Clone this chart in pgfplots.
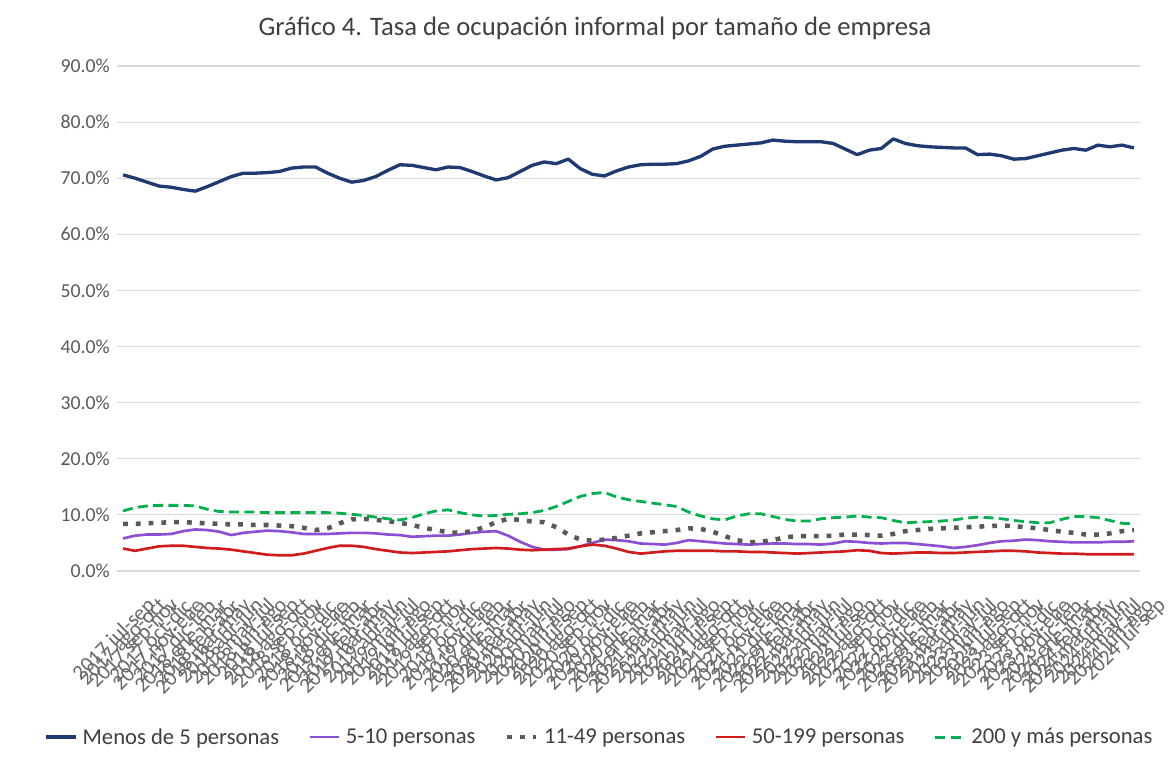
\documentclass[border=0pt]{standalone}
\usepackage{pgfplots}
\pgfplotsset{compat=1.18}
\usepackage{pgfplotstable}
\usepackage{fontspec}
\setmainfont{Carlito}
\definecolor{cBlue}{HTML}{1F3A70}
\definecolor{cPurple}{HTML}{8A4FD2}
\definecolor{cGray}{HTML}{595959}
\definecolor{cRed}{HTML}{D01C1C}
\definecolor{cGreen}{HTML}{00B050}
\definecolor{cGrid}{HTML}{D9D9D9}
\definecolor{cText}{HTML}{595959}
\definecolor{cTitle}{HTML}{404040}

\pgfplotstableread{
i a b c d e
0 70.6 5.8 8.4 4.0 10.7
1 70.0 6.3 8.4 3.6 11.3
2 69.3 6.5 8.5 4.0 11.6
3 68.6 6.5 8.6 4.4 11.7
4 68.4 6.6 8.7 4.5 11.7
5 68.0 7.1 8.7 4.5 11.7
6 67.7 7.4 8.6 4.3 11.6
7 68.5 7.3 8.5 4.1 11.0
8 69.4 7.0 8.4 4.0 10.6
9 70.3 6.4 8.3 3.8 10.5
10 70.9 6.8 8.3 3.5 10.5
11 70.9 7.0 8.2 3.2 10.5
12 71.0 7.2 8.2 2.9 10.4
13 71.2 7.1 8.1 2.8 10.4
14 71.8 6.9 8.0 2.8 10.4
15 72.0 6.6 7.7 3.1 10.4
16 72.0 6.6 7.3 3.6 10.4
17 70.9 6.6 7.6 4.1 10.4
18 70.0 6.7 8.5 4.5 10.3
19 69.3 6.8 9.2 4.5 10.1
20 69.6 6.8 9.3 4.3 9.9
21 70.3 6.7 9.1 3.9 9.6
22 71.4 6.5 8.9 3.6 9.3
23 72.4 6.4 8.6 3.3 9.1
24 72.3 6.1 8.2 3.2 9.5
25 71.9 6.2 7.7 3.3 10.2
26 71.5 6.3 7.3 3.4 10.7
27 72.0 6.3 6.9 3.5 10.9
28 71.9 6.5 6.8 3.7 10.4
29 71.2 6.8 7.1 3.9 10.0
30 70.4 7.0 7.8 4.0 9.8
31 69.7 7.1 8.7 4.1 9.9
32 70.1 6.3 9.3 4.0 10.1
33 71.2 5.2 9.1 3.8 10.2
34 72.3 4.3 8.8 3.7 10.4
35 72.9 3.8 8.7 3.8 10.8
36 72.6 3.8 7.8 3.9 11.5
37 73.4 3.9 6.5 4.0 12.4
38 71.7 4.4 5.6 4.4 13.3
39 70.7 5.0 5.4 4.7 13.8
40 70.4 5.6 5.6 4.5 14.0
41 71.3 5.5 5.9 4.0 13.2
42 72.0 5.3 6.3 3.4 12.7
43 72.4 4.9 6.7 3.1 12.4
44 72.5 4.8 6.9 3.3 12.1
45 72.5 4.7 7.1 3.5 11.8
46 72.6 5.0 7.3 3.6 11.5
47 73.1 5.5 7.6 3.6 10.5
48 73.9 5.3 7.5 3.6 9.8
49 75.2 5.1 7.0 3.6 9.3
50 75.7 4.9 6.2 3.5 9.1
51 75.9 4.8 5.5 3.5 9.8
52 76.1 4.7 5.1 3.4 10.2
53 76.3 4.8 5.2 3.4 10.2
54 76.8 4.9 5.5 3.3 9.7
55 76.6 4.9 6.0 3.2 9.2
56 76.5 4.8 6.2 3.1 8.9
57 76.5 4.8 6.2 3.2 8.9
58 76.5 4.7 6.2 3.3 9.3
59 76.2 4.9 6.3 3.4 9.5
60 75.2 5.3 6.5 3.5 9.6
61 74.2 5.2 6.5 3.7 9.8
62 75.0 5.0 6.4 3.6 9.6
63 75.3 4.9 6.3 3.2 9.5
64 77.0 5.0 6.6 3.1 9.0
65 76.2 5.0 7.1 3.2 8.6
66 75.8 4.8 7.3 3.3 8.7
67 75.6 4.6 7.5 3.3 8.8
68 75.5 4.4 7.6 3.2 8.9
69 75.4 4.1 7.7 3.2 9.1
70 75.4 4.3 7.8 3.3 9.4
71 74.2 4.6 7.9 3.4 9.6
72 74.3 5.0 8.0 3.5 9.5
73 74.0 5.3 8.1 3.6 9.3
74 73.4 5.4 8.0 3.6 9.0
75 73.5 5.6 7.8 3.5 8.8
76 74.0 5.5 7.6 3.3 8.6
77 74.5 5.3 7.3 3.2 8.6
78 75.0 5.2 7.0 3.1 9.2
79 75.3 5.1 6.8 3.1 9.7
80 75.0 5.1 6.5 3.0 9.7
81 75.9 5.1 6.5 3.0 9.5
82 75.6 5.2 6.7 3.0 9.0
83 75.9 5.2 7.1 3.0 8.5
84 75.4 5.3 7.3 3.0 8.4
}\datatable

\begin{document}
\begin{tikzpicture}
\path[use as bounding box] (-87.75pt,-149.25pt) rectangle (789.75pt,428.25pt);
\begin{axis}[
  at={(0pt,0pt)}, anchor=south west,
  scale only axis, width=767.25pt, height=378.75pt,
  xmin=-0.5, xmax=84.5, ymin=0, ymax=90,
  ytick={0,10,...,90},
  xtick={0,...,84},
  xticklabels={
    2017 jul-sep,2017 ago-oct,2017 sep-nov,2017 oct-dic,2017 nov-ene,2017 dic-feb,
    2018 ene-mar,2018 feb-abr,2018 mar-may,2018 abr-jun,2018 may-jul,2018 jun-ago,2018 jul-sep,2018 ago-oct,2018 sep-nov,2018 oct-dic,2018 nov-ene,2018 dic-feb,
    2019 ene-mar,2019 feb-abr,2019 mar-may,2019 abr-jun,2019 may-jul,2019 jun-ago,2019 jul-sep,2019 ago-oct,2019 sep-nov,2019 oct-dic,2019 nov-ene,2019 dic-feb,
    2020 ene-mar,2020 feb-abr,2020 mar-may,2020 abr-jun,2020 may-jul,2020 jun-ago,2020 jul-sep,2020 ago-oct,2020 sep-nov,2020 oct-dic,2020 nov-ene,2020 dic-feb,
    2021 ene-mar,2021 feb-abr,2021 mar-may,2021 abr-jun,2021 may-jul,2021 jun-ago,2021 jul-sep,2021 ago-oct,2021 sep-nov,2021 oct-dic,2021 nov-ene,2021 dic-feb,
    2022 ene-mar,2022 feb-abr,2022 mar-may,2022 abr-jun,2022 may-jul,2022 jun-ago,2022 jul-sep,2022 ago-oct,2022 sep-nov,2022 oct-dic,2022 nov-ene,2022 dic-feb,
    2023 ene-mar,2023 feb-abr,2023 mar-may,2023 abr-jun,2023 may-jul,2023 jun-ago,2023 jul-sep,2023 ago-oct,2023 sep-nov,2023 oct-dic,2023 nov-ene,2023 dic-feb,
    2024 ene-mar,2024 feb-abr,2024 mar-may,2024 abr-jun,2024 may-jul,2024 jun-ago,2024 jul-sep},
  axis line style={draw=none},
  tick style={draw=none},
  major tick length=0pt,
  ymajorgrids, grid style={cGrid, line width=0.9pt},
  /pgf/number format/assume math mode=true,
  yticklabel={\pgfmathprintnumber[fixed,fixed zerofill,precision=1]{\tick}\%},
  yticklabel style={font=\fontsize{14.8}{17}\selectfont, text=cText, xshift=-2pt},
  xticklabel style={font=\fontsize{16}{18}\selectfont, text=cText!90, rotate=45, anchor=east, yshift=-32pt, xshift=2pt},
  legend style={at={(0.472,-0.329)}, anchor=center, draw=none, fill=none,
    legend columns=5, font=\fontsize{17}{20}\selectfont, text=cTitle,
    /tikz/every even column/.append style={column sep=20pt},
    /tikz/every odd column/.append style={column sep=2pt}},
  legend cell align=left,
  legend image code/.code={\draw[#1] (0pt,0pt) -- (22pt,0pt);},
  clip=false,
]
\addplot[cBlue, line width=2.5pt, line join=round] table[x=i, y=a] {\datatable};
\addlegendentry{Menos de 5 personas}
\addplot[cPurple, line width=2pt, line join=round] table[x=i, y=b] {\datatable};
\addlegendentry{5-10 personas}
\addplot[cGray, line width=3.4pt, dash pattern=on 3.6pt off 6pt] table[x=i, y=c] {\datatable};
\addlegendentry{11-49 personas}
\addplot[cRed, line width=2pt, line join=round] table[x=i, y=d] {\datatable};
\addlegendentry{50-199 personas}
\addplot[cGreen, line width=2.1pt, dash pattern=on 7.5pt off 4pt] table[x=i, y=e] {\datatable};
\addlegendentry{200 y más personas}
\end{axis}
\node[font=\fontsize{20}{24}\selectfont, text=cTitle] at (358.5pt,407.25pt) {Gráfico 4. Tasa de ocupación informal por tamaño de empresa};
\end{tikzpicture}
\end{document}
